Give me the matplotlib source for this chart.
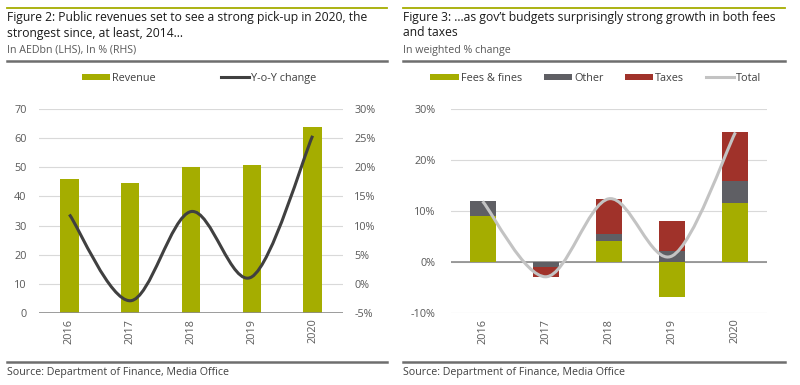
import numpy as np
import matplotlib
matplotlib.use("Agg")
import matplotlib.pyplot as plt
from matplotlib.lines import Line2D
from matplotlib.path import Path
from matplotlib.patches import PathPatch

years = ["2016", "2017", "2018", "2019", "2020"]

# Figure 2
revenue = [46.0, 44.6, 50.1, 50.7, 63.7]
yoy_change = [11.9, -2.9, 12.4, 1.2, 25.4]

# Figure 3
fees_fines = [9.0, 0.0, 4.1, -6.8, 11.6]
other = [2.9, -0.9, 1.4, 2.2, 4.3]
taxes = [0.0, -2.0, 6.9, 5.8, 9.5]
total = [11.9, -2.9, 12.4, 1.2, 25.4]

OLIVE = "#a5ad00"
DGREY = "#5f5f64"
RED = "#a0322a"
LGREY = "#c3c3c3"
LINE = "#404040"
TXT = "#595959"
GRID = "#d9d9d9"

plt.rcParams["font.family"] = ["Open Sans", "DejaVu Sans"]
FS = 7.8


def smooth_path(ax, xs, ys, color, lw):
    """Excel-like smoothed line (Catmull-Rom as cubic Bezier)."""
    pts = np.column_stack([xs, ys]).astype(float)
    ext = np.vstack([pts[0], pts, pts[-1]])
    verts = [tuple(pts[0])]
    codes = [Path.MOVETO]
    for i in range(1, len(ext) - 2):
        p0, p1, p2, p3 = ext[i - 1], ext[i], ext[i + 1], ext[i + 2]
        verts += [tuple(p1 + (p2 - p0) / 6), tuple(p2 - (p3 - p1) / 6), tuple(p2)]
        codes += [Path.CURVE4] * 3
    ax.add_patch(PathPatch(Path(verts, codes), facecolor="none", edgecolor=color,
                           lw=lw, capstyle="butt", zorder=3))
    return Line2D([], [], color=color, lw=lw)


def style_axis(ax):
    for s in ax.spines.values():
        s.set_visible(False)
    ax.tick_params(length=0, labelsize=FS, labelcolor=TXT)
    ax.grid(axis="y", color=GRID, lw=0.8)
    ax.set_axisbelow(True)


fig = plt.figure(figsize=(8, 3.85), dpi=100)
x = np.arange(len(years))

# ---- Figure 2 ----
ax = fig.add_axes([0.04875, 0.187, 0.38, 0.53])
style_axis(ax)
bars = ax.bar(x, revenue, width=0.3, color=OLIVE, zorder=2, label="Revenue")
ax.set_ylim(0, 70)
ax.set_yticks(range(0, 71, 10))
ax.set_xlim(-0.5, 4.5)
ax.set_xticks(x)
ax.set_xticklabels(years, rotation=90)
ax.tick_params(axis="y", pad=9)
ax.tick_params(axis="x", pad=4)
ax.axhline(0, color="#8c8c8c", lw=1.2, zorder=4)

ax2 = ax.twinx()
for s in ax2.spines.values():
    s.set_visible(False)
ax2.tick_params(length=0, labelsize=FS, labelcolor=TXT, pad=8)
ax2.set_ylim(-5, 30)
ax2.set_yticks(range(-5, 31, 5))
ax2.set_yticklabels([f"{v}%" for v in range(-5, 31, 5)])
h_line = smooth_path(ax2, x, yoy_change, LINE, 2.2)

fig.legend([bars, h_line], ["Revenue", "Y-o-Y change"], loc="center",
           bbox_to_anchor=(0.249, 0.797), ncol=2, frameon=False, fontsize=FS,
           handlelength=2.6, handleheight=0.5, handletextpad=0.2,
           columnspacing=6.0, labelcolor="#404040")

# ---- Figure 3 ----
bx = fig.add_axes([0.56375, 0.187, 0.395, 0.53])
style_axis(bx)
pos = np.zeros(len(years))
neg = np.zeros(len(years))
handles = []
for vals, col, lab in [(fees_fines, OLIVE, "Fees & fines"),
                       (other, DGREY, "Other"),
                       (taxes, RED, "Taxes")]:
    vals = np.array(vals)
    bottom = np.where(vals >= 0, pos, neg)
    b = bx.bar(x, vals, width=0.41, bottom=bottom, color=col, zorder=2, label=lab)
    handles.append(b)
    pos = pos + np.clip(vals, 0, None)
    neg = neg + np.clip(vals, None, 0)
bx.set_ylim(-10, 30)
bx.set_yticks(range(-10, 31, 10))
bx.set_yticklabels([f"{v}%" for v in range(-10, 31, 10)])
bx.set_xlim(-0.5, 4.5)
bx.set_xticks(x)
bx.set_xticklabels(years, rotation=90)
bx.tick_params(axis="y", pad=11)
bx.tick_params(axis="x", pad=4)
bx.axhline(0, color="#8c8c8c", lw=1.2, zorder=1.5)
handles.append(smooth_path(bx, x, total, LGREY, 2.2))

fig.legend(handles, ["Fees & fines", "Other", "Taxes", "Total"], loc="center",
           bbox_to_anchor=(0.745, 0.797), ncol=4, frameon=False, fontsize=FS,
           handlelength=2.6, handleheight=0.5, handletextpad=0.2,
           columnspacing=2.0, labelcolor="#404040")

# ---- headers and footers ----
for x0, x1, title, sub in [
    (7, 387, "Figure 2: Public revenues set to see a strong pick-up in 2020, the\n"
             "strongest since, at least, 2014\u2026", "In AEDbn (LHS), In % (RHS)"),
    (403, 785, "Figure 3: \u2026as gov\u2019t budgets surprisingly strong growth in both fees\n"
               "and taxes", "In weighted % change"),
]:
    fx0, fx1 = x0 / 800, x1 / 800
    fig.add_artist(Line2D([fx0, fx1], [1 - 8 / 385] * 2, color=OLIVE, lw=1.3))
    fig.text(fx0, 1 - 25 / 385, title, fontsize=8.7, color="#1a1a1a",
             va="center", ha="left", linespacing=1.3)
    fig.text(fx0, 1 - 50 / 385, sub, fontsize=7.7, color=TXT, va="center", ha="left")
    fig.add_artist(Line2D([fx0, fx1], [1 - 61 / 385] * 2, color="#6e6e6e", lw=1.8))
    fig.add_artist(Line2D([fx0, fx1], [1 - 362 / 385] * 2, color="#6e6e6e", lw=1.8))
    fig.text(fx0, 1 - 373 / 385, "Source: Department of Finance, Media Office",
             fontsize=7.7, color="#404040", va="center", ha="left")

fig.savefig("out.png", dpi=100)
